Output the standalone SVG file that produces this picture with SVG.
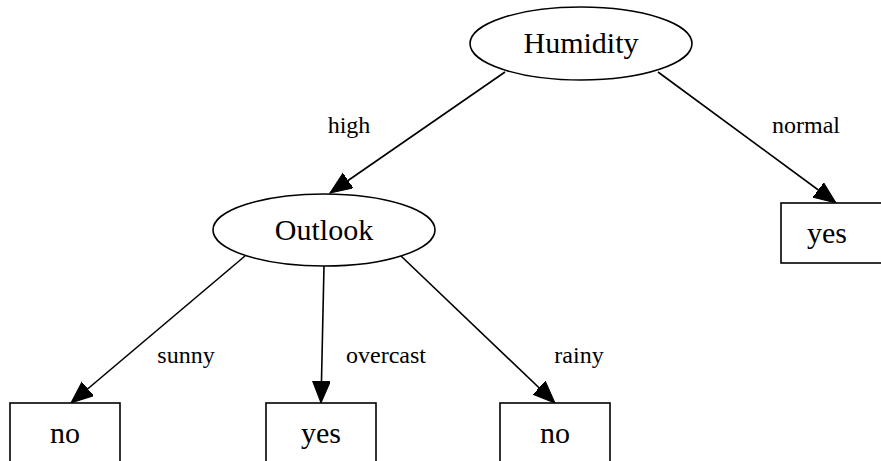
<svg xmlns="http://www.w3.org/2000/svg" width="881" height="461" viewBox="0 0 881 461">
<style>
.n{fill:#fff;stroke:#000;stroke-width:1.6}
.t{font-family:"Liberation Serif","Times New Roman",serif;font-size:30px;text-anchor:middle;fill:#000}
.l{font-family:"Liberation Serif","Times New Roman",serif;font-size:24px;text-anchor:middle;fill:#000}
.e{stroke:#000;stroke-width:1.6;fill:none;marker-end:url(#a)}
</style>
<defs>
<marker id="a" markerUnits="userSpaceOnUse" markerWidth="26" markerHeight="20" refX="22" refY="9" orient="auto">
<path d="M0,0 L22,9 L0,18 z" fill="#000" stroke="#000" stroke-width="1"/>
</marker>
</defs>
<rect width="881" height="461" fill="#fff"/>
<g id="edges">
<line class="e" x1="505" y1="72" x2="330" y2="193"/>
<line class="e" x1="658" y1="72" x2="836" y2="203"/>
<line class="e" x1="245" y1="256" x2="71" y2="403"/>
<line class="e" x1="324" y1="266" x2="321" y2="403"/>
<line class="e" x1="401" y1="256" x2="555" y2="403"/>
<text class="l" x="349" y="133">high</text>
<text class="l" x="806" y="133">normal</text>
<text class="l" x="186" y="363">sunny</text>
<text class="l" x="386" y="363">overcast</text>
<text class="l" x="579" y="363">rainy</text>
</g>
<g id="humidity">
<ellipse class="n" cx="581" cy="43.5" rx="111" ry="36.5"/>
<text class="t" x="581" y="53">Humidity</text>
</g>
<g id="outlook">
<ellipse class="n" cx="324" cy="230" rx="111" ry="36"/>
<text class="t" x="324" y="240">Outlook</text>
</g>
<g id="yes1">
<rect class="n" x="781" y="203" width="110" height="60"/>
<text class="t" x="827" y="243">yes</text>
</g>
<g id="no1">
<rect class="n" x="10" y="403" width="110" height="70"/>
<text class="t" x="65" y="443">no</text>
</g>
<g id="yes2">
<rect class="n" x="266" y="403" width="110" height="70"/>
<text class="t" x="321" y="443">yes</text>
</g>
<g id="no2">
<rect class="n" x="500" y="403" width="110" height="70"/>
<text class="t" x="555" y="443">no</text>
</g>
</svg>
